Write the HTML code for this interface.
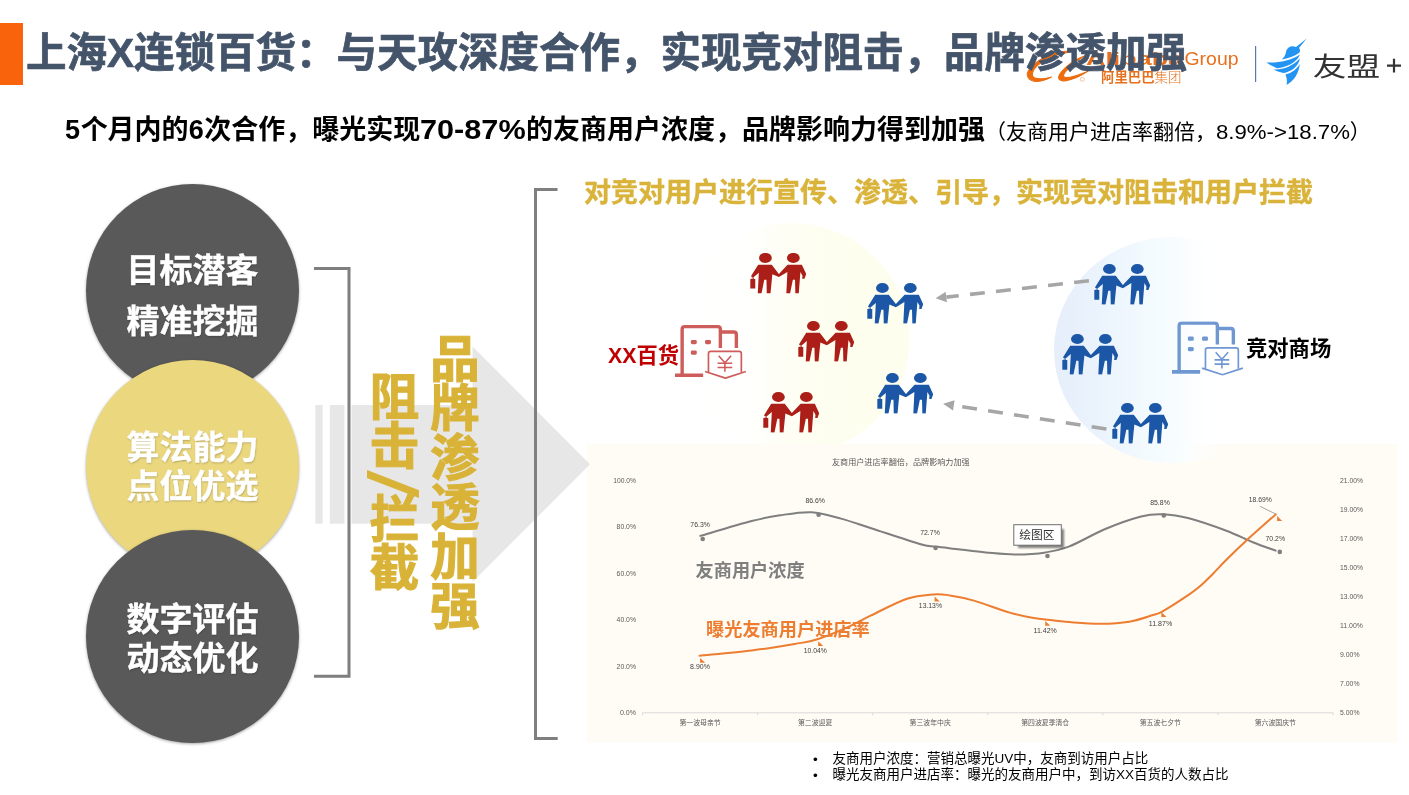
<!DOCTYPE html>
<html lang="zh-CN">
<head>
<meta charset="utf-8">
<title>上海X连锁百货</title>
<style>
html,body{margin:0;padding:0;background:#fff;}
body{width:1409px;height:795px;position:relative;overflow:hidden;font-family:"Liberation Sans","Noto Sans CJK SC",sans-serif;color:#000;}
.abs{position:absolute;white-space:nowrap;}
#bar{left:0;top:23px;width:23px;height:61.5px;background:#F9630B;}
#title{left:26px;top:23px;font-size:40.5px;line-height:60px;font-weight:bold;color:#44546A;letter-spacing:0;-webkit-text-stroke:0.7px #44546A;}
#sub{left:65px;top:110px;font-size:27px;line-height:40px;font-weight:bold;color:#000;}
#sub .n{display:inline-block;transform:scaleX(1.135);transform-origin:0 50%;margin-right:12.6px;}
#sub .n1{letter-spacing:0.6px;}
#sub .p{font-weight:normal;font-size:21px;}
#sub .p i{font-style:normal;font-size:20px;display:inline-block;transform:scaleX(1.11);transform-origin:0 50%;margin-right:13.2px;}
.circle{position:absolute;width:213.4px;height:213.4px;border-radius:50%;left:86px;box-shadow:0 1px 3px rgba(0,0,0,.35);}
.circle div{position:absolute;left:0;width:213px;text-align:center;color:#fff;font-weight:bold;font-size:33px;white-space:nowrap;text-shadow:0.5px 1px 2px rgba(0,0,0,.25);-webkit-text-stroke:0.4px #fff;}
#c1{top:184px;background:#595959;}
#c2{top:360px;background:#EBD77E;}
#c3{top:530px;background:#595959;}
.vt{position:absolute;writing-mode:vertical-rl;text-orientation:mixed;font-weight:bold;color:#D9B338;font-size:49.5px;line-height:52px;white-space:nowrap;-webkit-text-stroke:1.1px #D9B338;}
#head2{left:584px;top:172.5px;font-size:27px;line-height:40px;font-weight:bold;color:#D9B33A;-webkit-text-stroke:0.4px #D9B33A;}
.lbl{font-weight:bold;font-size:21.3px;line-height:30px;}
#foot{left:813px;top:750.8px;font-size:13.5px;line-height:16px;color:#000;font-weight:400;}
#foot div{position:relative;padding-left:19.5px;}
#foot div:before{content:"•";position:absolute;left:0;top:1.5px;}
</style>
</head>
<body>
<!-- logos (under the title) -->
<svg class="abs" id="logos" style="left:1020px;top:30px" width="389" height="70" viewBox="1020 30 389 70">
  <!-- alibaba swoosh -->
  <g fill="#EC6C0E" stroke="#EC6C0E" stroke-width="16" stroke-linejoin="round" transform="translate(1020,40) scale(0.06386)">
    <path d="M800,185 C620,140 330,260 160,440 C70,540 120,650 270,648 C350,645 430,615 495,578 C400,605 290,620 225,590 C170,560 190,480 270,400 C380,300 560,225 800,185 Z"/>
    <path d="M1010,250 C880,290 720,400 640,510 C570,600 610,650 700,640 C820,625 960,560 1065,488 C940,540 800,590 720,588 C670,585 670,550 710,500 C780,410 880,330 1010,250 Z"/>
  </g>
  <circle cx="1082.3" cy="79.3" r="2" fill="none" stroke="#F0A878" stroke-width="0.7"/>
  <text x="1086" y="65" font-family="Liberation Sans, sans-serif" font-size="18.5" font-weight="bold" fill="#E8701C" textLength="97" lengthAdjust="spacingAndGlyphs">Alibaba</text>
  <text x="1184.5" y="65" font-family="Liberation Sans, sans-serif" font-size="19" fill="#E8701C" textLength="54" lengthAdjust="spacingAndGlyphs">Group</text>
  <text x="1101" y="81.5" font-family="Noto Sans CJK SC, sans-serif" font-size="13.4" font-weight="bold" fill="#E8701C">阿里巴巴</text>
  <text x="1154.5" y="81.5" font-family="Noto Sans CJK SC, sans-serif" font-size="13.4" font-weight="300" fill="#E8701C">集团</text>
  <rect x="1255" y="46" width="1.2" height="36" fill="#5A78AA"/>
  <!-- umeng bird -->
  <g fill="#2494F2">
    <path d="M1306.7,38.4 L1296,47 C1291,45 1287,47.5 1286,52 C1285.5,55 1284,57.5 1281.5,59.5 C1288,58.5 1295,56 1299.5,52.5 C1300.5,50.5 1300,49 1299,48 Z"/>
    <path d="M1266.5,62.5 C1279,63 1291,60.5 1300,54.5 C1297,62 1287,67.5 1277,68.2 C1273,66.5 1269,64.5 1266.500,62.500 Z"/>
    <path d="M1273.5,69.5 C1283,70 1293,66 1299.8,58.5 C1299,66 1291,72 1283.5,73 C1279.5,72.3 1276,71 1273.500,69.500 Z"/>
    <path d="M1285.500,74.500 C1292,73 1297,69 1299.8,64 C1299,73 1294,81 1286.5,85 C1287.5,81.5 1286.800,78 1285.500,74.500 Z"/>
  </g>
  <text x="1312.800" y="75.600" font-family="Noto Sans CJK SC, sans-serif" font-size="26.5" font-weight="400" fill="#333" textLength="67.5" lengthAdjust="spacingAndGlyphs">友盟</text>
  <path d="M1387,65.6 H1401 M1394,58.8 V72.5" stroke="#333" stroke-width="2.2" fill="none"/>
</svg>

<div class="abs" id="bar"></div>
<div class="abs" id="title">上海X连锁百货：与天攻深度合作，实现竞对阻击，品牌渗透加强</div>
<div class="abs" id="sub"><span class="n1">5</span>个月内的<span class="n1">6</span>次合作，曝光实现<span class="n">70-87%</span>的友商用户浓度，品牌影响力得到加强<span class="p">（友商用户进店率翻倍，<i>8.9%-&gt;18.7%</i>）</span></div>

<!-- shapes layer -->
<svg class="abs" id="shapes" style="left:0;top:0" width="1409" height="795" viewBox="0 0 1409 795">
  <defs>
    <symbol id="ppl" viewBox="80 78 905 647" preserveAspectRatio="none">
      <ellipse cx="328" cy="158" rx="103" ry="80"/>
      <ellipse cx="778" cy="158" rx="103" ry="80"/>
      <path d="M212,265 H430 L545,412 L685,265 H915 L985,415 L957,490 H920 L925,440 L892,380 L865,722 H810 L805,505 H770 L725,722 H665 L682,380 L545,462 L440,418 L410,722 H350 L345,505 H310 L265,722 H205 L222,395 L132,470 L95,450 Z"/>
      <path d="M85,492 H108 V470 H142 V492 H165 V645 H85 Z M118,480 V492 H132 V480 Z" fill-rule="evenodd"/>
    </symbol>
    <symbol id="bld" viewBox="660 85 626 480" preserveAspectRatio="none">
      <g fill="none" stroke-linejoin="round">
        <path d="M723,520 V125 Q723,102 746,102 H1037 Q1060,102 1060,125 V290" stroke-width="30"/>
        <path d="M660,530 H908" stroke-width="32"/>
        <path d="M1062,149 H1178 Q1201,149 1201,172 V290" stroke-width="30"/>
        <path d="M955,502 V340 Q955,320 975,320 H1225 Q1245,320 1245,340 V502" stroke-width="15"/>
        <path d="M925,497 L1105,556 L1285,497" stroke-width="15"/>
        <path d="M1045,358 L1100,420 L1155,358 M1100,420 V500 M1035,425 H1165 M1035,462 H1165" stroke-width="14"/>
      </g>
      <g stroke="none">
        <rect x="800" y="220" width="52" height="37" rx="12"/>
        <rect x="925" y="220" width="52" height="37" rx="12"/>
        <rect x="800" y="312" width="52" height="37" rx="12"/>
      </g>
    </symbol>
    <linearGradient id="gy" x1="0" y1="0" x2="1" y2="0">
      <stop offset="0" stop-color="#FEFEF0" stop-opacity="0"/>
      <stop offset="0.28" stop-color="#FEFEF0" stop-opacity="0.05"/>
      <stop offset="0.62" stop-color="#FEFEF0" stop-opacity="1"/>
      <stop offset="1" stop-color="#FEFEEE" stop-opacity="1"/>
    </linearGradient>
    <linearGradient id="gb" x1="0" y1="0" x2="1" y2="0">
      <stop offset="0" stop-color="#E6EEFB"/>
      <stop offset="0.2" stop-color="#EBF3FD"/>
      <stop offset="0.38" stop-color="#F2FAFE"/>
      <stop offset="0.53" stop-color="#F8FDFF"/>
      <stop offset="0.72" stop-color="#FFFFFF" stop-opacity="0"/>
      <stop offset="1" stop-color="#FFFFFF" stop-opacity="0"/>
    </linearGradient>
  </defs>
  <!-- blobs -->
  <ellipse cx="791" cy="339" rx="118.500" ry="116" fill="url(#gy)"/>
  <!-- chart bg -->
  <rect x="587" y="444" width="810.3" height="298.500" fill="#FEFCF5"/>
  <!-- striped arrow -->
  <g fill="#E7E7E7">
    <rect x="315.4" y="405" width="7.2" height="118.7"/>
    <rect x="329.8" y="405" width="14.6" height="118.7"/>
    <path d="M351.5,405 H472.500 V346.500 L590,464.300 L472.500,582 V523.700 H351.500 Z"/>
  </g>
  <!-- small bracket -->
  <path d="M314,268.500 H349 V676.300 H314" fill="none" stroke="#7F7F7F" stroke-width="3"/>
  <!-- big bracket -->
  <path d="M557.500,189.500 H535.500 V738.500 H557.700" fill="none" stroke="#7F7F7F" stroke-width="3"/>
  <ellipse cx="1172.500" cy="350" rx="118.500" ry="113" fill="url(#gb)"/>
  <!-- dashed arrows -->
  <path d="M1088.9,280.8 L946.3,297.1" stroke="#A6A6A6" stroke-width="3.6" stroke-dasharray="14.9 11.3" fill="none"/>
  <path d="M935.6,298.3 L945.7,291.8 L946.9,302.3 Z" fill="#A6A6A6"/>
  <path d="M1106.4,429.0 L953.8,405.4" stroke="#A6A6A6" stroke-width="3.6" stroke-dasharray="14.9 11.3" fill="none"/>
  <path d="M943.1,403.8 L954.6,400.2 L953.0,410.6 Z" fill="#A6A6A6"/>
  <!-- people icons -->
  <g fill="#AB1F18">
    <use href="#ppl" x="750" y="252.9" width="56.2" height="40.7"/>
    <use href="#ppl" x="798" y="321" width="56.2" height="40.7"/>
    <use href="#ppl" x="763" y="392" width="56.2" height="40.7"/>
  </g>
  <g fill="#1B57A6">
    <use href="#ppl" x="867" y="283" width="56.2" height="40.7"/>
    <use href="#ppl" x="877" y="373" width="56.2" height="40.7"/>
    <use href="#ppl" x="1094" y="264" width="56.2" height="40.7"/>
    <use href="#ppl" x="1062" y="334" width="56.2" height="40.7"/>
    <use href="#ppl" x="1112" y="403" width="56.2" height="40.7"/>
  </g>
  <!-- buildings -->
  <use href="#bld" x="675" y="324.7" width="71" height="54.5" fill="#CD5C5A" stroke="#CD5C5A"/>
  <use href="#bld" x="1172" y="321.2" width="71" height="54.6" fill="#6F97D2" stroke="#6F97D2"/>
</svg>

<div class="circle" id="c1"><div style="top:61.3px;line-height:51px;">目标潜客<br>精准挖掘</div></div>
<div class="circle" id="c2"><div style="top:67.5px;line-height:39px">算法能力<br>点位优选</div></div>
<div class="circle" id="c3"><div style="top:69.5px;line-height:39px">数字评估<br>动态优化</div></div>

<div class="vt" style="left:364px;top:370.5px;">阻击</div>
<div class="abs" id="slash" style="left:368px;top:469px;width:51px;height:30px;"><span style="position:absolute;left:0;top:0;font-size:49px;line-height:1;font-weight:normal;color:#D9B338;transform-origin:0 0;transform:translate(58px,1px) rotate(90deg) scale(2.05,1.42);">/</span></div>
<div class="vt" style="left:364px;top:493px;">拦截</div>
<div class="vt" style="left:424.500px;top:333px;">品牌渗透加强</div>

<div class="abs" id="head2">对竞对用户进行宣传、渗透、引导，实现竞对阻击和用户拦截</div>

<div class="abs lbl" style="left:608px;top:341px;color:#C00000;">XX百货</div>
<div class="abs lbl" style="left:1246px;top:334px;color:#000;">竞对商场</div>

<!--CHART-->
<svg class="abs" id="chart" style="left:587px;top:444px" width="822" height="300" viewBox="587 444 822 300">
  <defs><filter id="blur2" x="-20%" y="-20%" width="140%" height="140%"><feGaussianBlur stdDeviation="1.2"/></filter></defs>
  <text x="900.8" y="465.3" text-anchor="middle" font-family="Liberation Sans, Noto Sans CJK SC, sans-serif" font-size="8.1" fill="#595959" textLength="137.7" lengthAdjust="spacingAndGlyphs">友商用户进店率翻倍，品牌影响力加强</text>
  <path d="M642.5,712.8 H1333" stroke="#D9D9D9" stroke-width="1" fill="none"/>
  <path d="M642.5,712.8 v2.5 M757.6,712.8 v2.5 M872.7,712.8 v2.5 M987.8,712.8 v2.5 M1102.9,712.8 v2.5 M1218.0,712.8 v2.5 M1333.1,712.8 v2.5" stroke="#D9D9D9" stroke-width="1" fill="none"/>
  <text x="636" y="482.8" text-anchor="end" font-family="Liberation Sans, Noto Sans CJK SC, sans-serif" font-size="7" fill="#595959" textLength="22.8" lengthAdjust="spacingAndGlyphs">100.0%</text>
  <text x="636" y="529.2" text-anchor="end" font-family="Liberation Sans, Noto Sans CJK SC, sans-serif" font-size="7" fill="#595959" textLength="19.4" lengthAdjust="spacingAndGlyphs">80.0%</text>
  <text x="636" y="575.7" text-anchor="end" font-family="Liberation Sans, Noto Sans CJK SC, sans-serif" font-size="7" fill="#595959" textLength="19.4" lengthAdjust="spacingAndGlyphs">60.0%</text>
  <text x="636" y="622.1" text-anchor="end" font-family="Liberation Sans, Noto Sans CJK SC, sans-serif" font-size="7" fill="#595959" textLength="19.4" lengthAdjust="spacingAndGlyphs">40.0%</text>
  <text x="636" y="668.6" text-anchor="end" font-family="Liberation Sans, Noto Sans CJK SC, sans-serif" font-size="7" fill="#595959" textLength="19.4" lengthAdjust="spacingAndGlyphs">20.0%</text>
  <text x="636" y="715.0" text-anchor="end" font-family="Liberation Sans, Noto Sans CJK SC, sans-serif" font-size="7" fill="#595959" textLength="16.1" lengthAdjust="spacingAndGlyphs">0.0%</text>
  <text x="1340" y="483.0" font-family="Liberation Sans, Noto Sans CJK SC, sans-serif" font-size="7" fill="#595959" textLength="22.9" lengthAdjust="spacingAndGlyphs">21.00%</text>
  <text x="1340" y="511.9" font-family="Liberation Sans, Noto Sans CJK SC, sans-serif" font-size="7" fill="#595959" textLength="22.9" lengthAdjust="spacingAndGlyphs">19.00%</text>
  <text x="1340" y="540.9" font-family="Liberation Sans, Noto Sans CJK SC, sans-serif" font-size="7" fill="#595959" textLength="22.9" lengthAdjust="spacingAndGlyphs">17.00%</text>
  <text x="1340" y="569.9" font-family="Liberation Sans, Noto Sans CJK SC, sans-serif" font-size="7" fill="#595959" textLength="22.9" lengthAdjust="spacingAndGlyphs">15.00%</text>
  <text x="1340" y="598.8" font-family="Liberation Sans, Noto Sans CJK SC, sans-serif" font-size="7" fill="#595959" textLength="22.9" lengthAdjust="spacingAndGlyphs">13.00%</text>
  <text x="1340" y="627.8" font-family="Liberation Sans, Noto Sans CJK SC, sans-serif" font-size="7" fill="#595959" textLength="22.9" lengthAdjust="spacingAndGlyphs">11.00%</text>
  <text x="1340" y="656.7" font-family="Liberation Sans, Noto Sans CJK SC, sans-serif" font-size="7" fill="#595959" textLength="19.5" lengthAdjust="spacingAndGlyphs">9.00%</text>
  <text x="1340" y="685.6" font-family="Liberation Sans, Noto Sans CJK SC, sans-serif" font-size="7" fill="#595959" textLength="19.5" lengthAdjust="spacingAndGlyphs">7.00%</text>
  <text x="1340" y="714.6" font-family="Liberation Sans, Noto Sans CJK SC, sans-serif" font-size="7" fill="#595959" textLength="19.5" lengthAdjust="spacingAndGlyphs">5.00%</text>
  <text x="700.1" y="725" text-anchor="middle" font-family="Liberation Sans, Noto Sans CJK SC, sans-serif" font-size="6.9" fill="#595959" textLength="41.2" lengthAdjust="spacingAndGlyphs">第一波母亲节</text>
  <text x="815.1" y="725" text-anchor="middle" font-family="Liberation Sans, Noto Sans CJK SC, sans-serif" font-size="6.9" fill="#595959" textLength="34.4" lengthAdjust="spacingAndGlyphs">第二波迎夏</text>
  <text x="930.2" y="725" text-anchor="middle" font-family="Liberation Sans, Noto Sans CJK SC, sans-serif" font-size="6.9" fill="#595959" textLength="41.2" lengthAdjust="spacingAndGlyphs">第三波年中庆</text>
  <text x="1045.2" y="725" text-anchor="middle" font-family="Liberation Sans, Noto Sans CJK SC, sans-serif" font-size="6.9" fill="#595959" textLength="48.1" lengthAdjust="spacingAndGlyphs">第四波夏季清仓</text>
  <text x="1160.3" y="725" text-anchor="middle" font-family="Liberation Sans, Noto Sans CJK SC, sans-serif" font-size="6.9" fill="#595959" textLength="41.2" lengthAdjust="spacingAndGlyphs">第五波七夕节</text>
  <text x="1275.3" y="725" text-anchor="middle" font-family="Liberation Sans, Noto Sans CJK SC, sans-serif" font-size="6.9" fill="#595959" textLength="41.2" lengthAdjust="spacingAndGlyphs">第六波国庆节</text>
  <path d="M700.3,535.9 C708.9,533.4 738.4,524.4 751.7,521.0 C765.0,517.6 770.0,516.8 780.0,515.3 C790.0,513.8 801.2,511.7 811.4,512.2 C821.6,512.8 831.0,515.9 841.0,518.6 C851.0,521.3 858.1,524.0 871.1,528.2 C884.1,532.4 908.1,540.6 918.9,543.7 C929.6,546.8 928.8,545.7 935.6,546.6 C942.5,547.5 951.6,548.4 960.0,549.4 C968.4,550.4 976.7,551.5 985.8,552.4 C994.9,553.2 1004.5,554.5 1014.5,554.5 C1024.5,554.5 1036.4,553.8 1045.6,552.4 C1054.8,551.0 1059.5,550.3 1069.4,546.4 C1079.4,542.5 1093.3,534.0 1105.3,529.0 C1117.2,524.0 1131.5,519.0 1141.1,516.5 C1150.6,514.0 1154.6,513.9 1162.6,514.2 C1170.6,514.5 1178.3,515.5 1188.9,518.2 C1199.5,521.0 1215.8,526.7 1226.4,530.7 C1237.1,534.7 1244.6,538.9 1252.8,542.2 C1261.0,545.5 1271.9,549.2 1275.7,550.6" fill="none" stroke="#7F7F7F" stroke-width="2" stroke-linecap="round"/>
  <path d="M699.6,655.7 C708.3,654.8 735.9,652.5 751.7,650.5 C767.6,648.5 783.8,645.9 794.7,644.0 C805.7,642.1 808.6,642.1 817.4,639.3 C826.1,636.5 838.2,631.4 847.2,627.4 C856.2,623.4 861.1,620.2 871.1,615.4 C881.1,610.6 896.6,602.2 907.0,598.7 C917.4,595.2 926.0,595.0 933.2,594.4 C940.4,593.8 943.2,594.4 950.0,595.4 C956.8,596.4 963.9,597.7 973.9,600.6 C983.9,603.5 999.8,609.7 1009.7,612.6 C1019.7,615.5 1027.6,617.0 1033.6,618.1 C1039.6,619.2 1039.6,618.8 1045.6,619.5 C1051.6,620.2 1060.2,621.4 1069.4,622.1 C1078.6,622.8 1090.5,623.9 1100.5,623.8 C1110.5,623.7 1120.5,623.2 1129.2,621.7 C1138.0,620.2 1147.4,616.7 1153.0,615.0 C1158.6,613.3 1156.6,614.8 1162.6,611.4 C1168.6,608.0 1182.7,598.9 1188.9,594.7 C1195.1,590.5 1196.0,589.7 1200.0,586.2 C1204.0,582.8 1208.4,578.4 1212.8,574.0 C1217.2,569.6 1220.6,565.5 1226.4,559.8 C1232.2,554.0 1239.3,547.1 1247.5,539.5 C1255.7,531.9 1271.0,518.6 1275.7,514.4" fill="none" stroke="#ED7D31" stroke-width="2" stroke-linecap="round"/>
  <circle cx="702.7" cy="539" r="2.3" fill="#7F7F7F"/>
  <circle cx="818.6" cy="514.8" r="2.3" fill="#7F7F7F"/>
  <circle cx="935.6" cy="548" r="2.3" fill="#7F7F7F"/>
  <circle cx="1047.5" cy="556" r="2.3" fill="#7F7F7F"/>
  <circle cx="1163.8" cy="515.4" r="2.3" fill="#7F7F7F"/>
  <circle cx="1279.8" cy="551.9" r="2.3" fill="#7F7F7F"/>
  <path d="M700.1,657.9 v4.8 h5.1 Z M818.2,641.2 v4.8 h5.1 Z M934.6,596.6 v4.8 h5.1 Z M1045.2,621 v4.8 h5.1 Z M1161.4,612.1 v4.8 h5.1 Z M1277.1,516.1 v4.8 h5.1 Z" fill="#ED7D31"/>
  <path d="M1260.2,506.4 L1275.7,514" stroke="#7F7F7F" stroke-width="0.7" fill="none"/>
  <text x="700.1" y="526.7" text-anchor="middle" font-family="Liberation Sans, Noto Sans CJK SC, sans-serif" font-size="7" fill="#404040" textLength="19.6" lengthAdjust="spacingAndGlyphs">76.3%</text>
  <text x="815.2" y="503.0" text-anchor="middle" font-family="Liberation Sans, Noto Sans CJK SC, sans-serif" font-size="7" fill="#404040" textLength="19.6" lengthAdjust="spacingAndGlyphs">86.6%</text>
  <text x="930" y="535.0" text-anchor="middle" font-family="Liberation Sans, Noto Sans CJK SC, sans-serif" font-size="7" fill="#404040" textLength="19.6" lengthAdjust="spacingAndGlyphs">72.7%</text>
  <text x="1160" y="504.7" text-anchor="middle" font-family="Liberation Sans, Noto Sans CJK SC, sans-serif" font-size="7" fill="#404040" textLength="19.6" lengthAdjust="spacingAndGlyphs">85.8%</text>
  <text x="1275.3" y="540.8" text-anchor="middle" font-family="Liberation Sans, Noto Sans CJK SC, sans-serif" font-size="7" fill="#404040" textLength="19.5" lengthAdjust="spacingAndGlyphs">70.2%</text>
  <text x="1260.3" y="501.9" text-anchor="middle" font-family="Liberation Sans, Noto Sans CJK SC, sans-serif" font-size="7" fill="#404040" textLength="23" lengthAdjust="spacingAndGlyphs">18.69%</text>
  <text x="700" y="668.7" text-anchor="middle" font-family="Liberation Sans, Noto Sans CJK SC, sans-serif" font-size="7" fill="#404040" textLength="19.9" lengthAdjust="spacingAndGlyphs">8.90%</text>
  <text x="815.3" y="652.5" text-anchor="middle" font-family="Liberation Sans, Noto Sans CJK SC, sans-serif" font-size="7" fill="#404040" textLength="23.2" lengthAdjust="spacingAndGlyphs">10.04%</text>
  <text x="930.4" y="607.9" text-anchor="middle" font-family="Liberation Sans, Noto Sans CJK SC, sans-serif" font-size="7" fill="#404040" textLength="23.1" lengthAdjust="spacingAndGlyphs">13.13%</text>
  <text x="1045.2" y="633.0" text-anchor="middle" font-family="Liberation Sans, Noto Sans CJK SC, sans-serif" font-size="7" fill="#404040" textLength="23.2" lengthAdjust="spacingAndGlyphs">11.42%</text>
  <text x="1160.5" y="625.8" text-anchor="middle" font-family="Liberation Sans, Noto Sans CJK SC, sans-serif" font-size="7" fill="#404040" textLength="23.4" lengthAdjust="spacingAndGlyphs">11.87%</text>
  <text x="695.5" y="576.8" font-family="Liberation Sans, Noto Sans CJK SC, sans-serif" font-size="18.2" font-weight="bold" fill="#7F7F7F">友商用户浓度</text>
  <text x="706" y="635.8" font-family="Liberation Sans, Noto Sans CJK SC, sans-serif" font-size="18.2" font-weight="bold" fill="#ED7D31">曝光友商用户进店率</text>
  <rect x="1018" y="529" width="46" height="19" fill="#000" opacity="0.5" filter="url(#blur2)"/>
  <rect x="1013.8" y="524.7" width="47.5" height="20.5" fill="#fff" stroke="#6E6E6E" stroke-width="1"/>
  <text x="1019.2" y="539.2" font-family="Liberation Sans, Noto Sans CJK SC, sans-serif" font-size="11.8" fill="#333">绘图区</text>
</svg>
<!--/CHART-->
<div class="abs" id="foot"><div>友商用户浓度：营销总曝光UV中，友商到访用户占比</div><div>曝光友商用户进店率：曝光的友商用户中，到访XX百货的人数占比</div></div>
</body>
</html>
